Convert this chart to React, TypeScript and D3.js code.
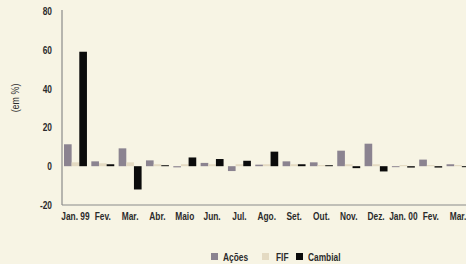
import React from "react";
import * as d3 from "d3";

const categories = ["Jan. 99", "Fev.", "Mar.", "Abr.", "Maio", "Jun.", "Jul.", "Ago.", "Set.", "Out.", "Nov.", "Dez.", "Jan. 00", "Fev.", "Mar."];
const seriesNames = ["Ações", "FIF", "Cambial"];
const acoes = [11.3, 2.5, 9.2, 3.0, -0.6, 1.7, -2.5, 0.8, 2.5, 2.0, 8.0, 11.6, -0.5, 3.4, 1.0];
const fif = [2.0, 1.5, 2.0, 1.0, 1.0, 1.0, 1.0, 1.0, 1.0, 0.6, 1.0, 1.0, 0.6, 0.6, 0.6];
const cambial = [59.0, 1.0, -12.0, 0.5, 4.5, 3.7, 2.8, 7.5, 1.0, 0.5, -1.0, -2.7, -0.7, -0.7, -0.5];
const yTicks = [-20, 0, 20, 40, 60, 80];

const colors = ["#8b8390", "#e4dac2", "#0b0b0b"];
const FONT = "'Liberation Sans', Arial, sans-serif";
const TXT = "#2b2b2b";

function CText({ x, y, anchor = "start", size = 11, sx = 0.76, bold = true, children }: any) {
  return (
    <text transform={`translate(${x},${y}) scale(${sx},1)`} textAnchor={anchor} fontSize={size}
      fontWeight={bold ? "bold" : "normal"} fill={TXT}>{children}</text>
  );
}

export default function App() {
  const W = 466, H = 264;
  const left = 62, top = 11, bottom = 205;
  const step = 27.3;
  const y = d3.scaleLinear().domain([-20, 80]).range([bottom, top]);
  const x = d3.scaleBand<number>().domain(d3.range(categories.length)).range([left, left + step * 15]).paddingInner(0.16).paddingOuter(0.073);
  const xs = d3.scaleBand<number>().domain([0, 1, 2]).range([0, x.bandwidth()]);
  const data = [acoes, fif, cambial];

  return (
    <svg width={W} height={H} style={{ position: "absolute", left: 0, top: 0, background: "#f7f4e4" }} fontFamily={FONT}>
      <rect x={0} y={0} width={W} height={H} fill="#f7f4e4" />
      {data.map((vals, s) =>
        vals.map((v, i) => (
          <rect key={`${s}-${i}`} x={(x(i) as number) + (xs(s) as number)} width={xs.bandwidth()}
            y={y(Math.max(0, v))} height={Math.abs(y(v) - y(0))} fill={colors[s]} />
        ))
      )}
      <line x1={left} x2={left} y1={top - 1} y2={bottom} stroke="#8a8a8a" strokeWidth={1.2} />
      <line x1={left} x2={W} y1={bottom} y2={bottom} stroke="#8a8a8a" strokeWidth={1.2} />
      {yTicks.map(t => (
        <CText key={t} x={52} y={y(t) + 4} anchor="end" size={11}>{t}</CText>
      ))}
      {categories.map((c, i) => (
        <CText key={i} x={(x(i) as number) + x.bandwidth() / 2} y={220} anchor="middle" size={11}>{c}</CText>
      ))}
      <text transform="translate(19,98) rotate(-90) scale(0.85,1)" textAnchor="middle" fontSize={10.5} fill={TXT}>(em %)</text>
      <g>
        <rect x={211} y={253} width={7} height={7} fill={colors[0]} />
        <CText x={223} y={261} size={11}>{seriesNames[0]}</CText>
        <rect x={262} y={253} width={7} height={7} fill={colors[1]} />
        <CText x={276} y={261} size={11}>{seriesNames[1]}</CText>
        <rect x={296} y={253} width={7} height={7} fill={colors[2]} />
        <CText x={308} y={261} size={11}>{seriesNames[2]}</CText>
      </g>
    </svg>
  );
}
